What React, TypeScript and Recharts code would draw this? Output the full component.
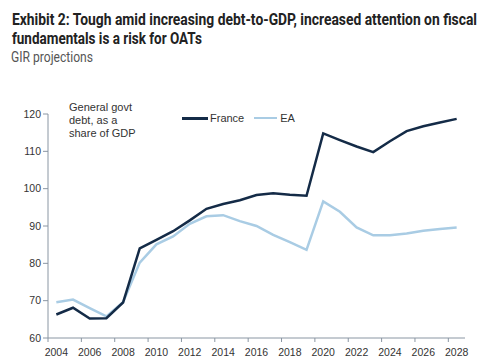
import { LineChart, Line, XAxis, YAxis, Legend } from 'recharts'

// GIR projections, general govt debt as % of GDP
const years = [
  2004, 2005, 2006, 2007, 2008, 2009, 2010, 2011, 2012, 2013, 2014, 2015, 2016,
  2017, 2018, 2019, 2020, 2021, 2022, 2023, 2024, 2025, 2026, 2027, 2028,
]
const france = [
  66.3, 68.1, 65.2, 65.3, 69.5, 84.0, 86.3, 88.6, 91.5, 94.6, 95.9, 96.9, 98.3,
  98.8, 98.4, 98.1, 114.8, 113.0, 111.3, 109.8, 112.7, 115.4, 116.7, 117.7, 118.7,
]
const ea = [
  69.6, 70.3, 68.0, 65.8, 69.6, 80.2, 85.1, 87.2, 90.6, 92.6, 92.9, 91.3, 90.0,
  87.6, 85.7, 83.6, 96.6, 93.8, 89.6, 87.5, 87.5, 88.0, 88.7, 89.2, 89.6,
]
const xLabels = [2004, 2006, 2008, 2010, 2012, 2014, 2016, 2018, 2020, 2022, 2024, 2026, 2028]
const yTicks = [60, 70, 80, 90, 100, 110, 120]

const data = years.map((year, i) => ({ year, france: france[i], ea: ea[i] }))

const W = 485
const H = 360
const MARGIN = { top: 102, right: 20, bottom: 2, left: 8 }
const Y_WIDTH = 40
const PLOT_W = W - MARGIN.left - MARGIN.right - Y_WIDTH
const BAND = PLOT_W / years.length

const AXIS = '#8a96a3'
const TEXT = '#333'
const FRANCE = '#142b47'
const EA = '#a9cce4'
const FONT = 'Arial, "Liberation Sans", sans-serif'
const TITLE_FONT = 'Roboto, "Open Sans", sans-serif'

// year labels sit in the middle of a band, tick marks on the band edges
const XTick = (props: any) => {
  const { x, y, payload } = props
  const mx = x - BAND / 2
  return (
    <g>
      <line x1={mx} x2={mx} y1={y} y2={y + 4} stroke={AXIS} />
      <text x={x} y={y + 18} textAnchor="middle" fontSize={10.5} fill={TEXT} fontFamily={FONT}>
        {payload.value}
      </text>
    </g>
  )
}

const LegendContent = () => (
  <div style={{ display: 'flex', alignItems: 'center', fontFamily: FONT, fontSize: 11, color: TEXT }}>
    <span style={{ display: 'inline-block', width: 26, height: 3, background: FRANCE, marginRight: 2 }} />
    <span style={{ marginRight: 10 }}>France</span>
    <span style={{ display: 'inline-block', width: 23, height: 2.5, background: EA, marginRight: 3 }} />
    <span>EA</span>
  </div>
)

export default function App() {
  return (
    <div style={{ position: 'absolute', left: 0, top: 0, width: W, height: H, background: '#fff', overflow: 'hidden' }}>
      <svg width={W} height={70} style={{ position: 'absolute', left: 0, top: 0 }}>
        <text
          x={12}
          y={24.5}
          fontFamily={TITLE_FONT}
          fontWeight={700}
          fontSize={17}
          fill="#222"
          textLength={465}
          lengthAdjust="spacingAndGlyphs"
        >
          Exhibit 2: Tough amid increasing debt-to-GDP, increased attention on fiscal
        </text>
        <text
          x={12}
          y={43.5}
          fontFamily={TITLE_FONT}
          fontWeight={700}
          fontSize={17}
          fill="#222"
          textLength={190}
          lengthAdjust="spacingAndGlyphs"
        >
          fundamentals is a risk for OATs
        </text>
        <text
          x={11}
          y={62}
          fontFamily={TITLE_FONT}
          fontSize={14}
          fill="#555"
          textLength={82}
          lengthAdjust="spacingAndGlyphs"
        >
          GIR projections
        </text>
      </svg>
      <div
        style={{
          position: 'absolute',
          left: 69,
          top: 101,
          fontFamily: FONT,
          fontSize: 11,
          lineHeight: '13px',
          color: TEXT,
          zIndex: 1,
        }}
      >
        General govt
        <br />
        debt, as a
        <br />
        share of GDP
      </div>
      <LineChart width={W} height={H} data={data} margin={MARGIN}>
        <XAxis
          dataKey="year"
          type="number"
          domain={[years[0] - 0.5, years[years.length - 1] + 0.5]}
          ticks={xLabels}
          interval={0}
          tickSize={0}
          tickMargin={0}
          tickLine={false}
          axisLine={{ stroke: AXIS }}
          tick={<XTick />}
          height={20}
        />
        <YAxis
          domain={[60, 120]}
          ticks={yTicks}
          interval={0}
          width={Y_WIDTH}
          tickSize={5}
          axisLine={{ stroke: AXIS }}
          tickLine={{ stroke: AXIS }}
          tick={{ fontSize: 10.5, fill: TEXT, fontFamily: FONT }}
        />
        <Legend
          verticalAlign="top"
          align="left"
          content={<LegendContent />}
          wrapperStyle={{ top: 112, left: 182, width: 'auto' }}
        />
        <Line
          dataKey="ea"
          stroke={EA}
          strokeWidth={2.5}
          dot={false}
          isAnimationActive={false}
        />
        <Line
          dataKey="france"
          stroke={FRANCE}
          strokeWidth={2.5}
          dot={false}
          isAnimationActive={false}
        />
      </LineChart>
    </div>
  )
}
